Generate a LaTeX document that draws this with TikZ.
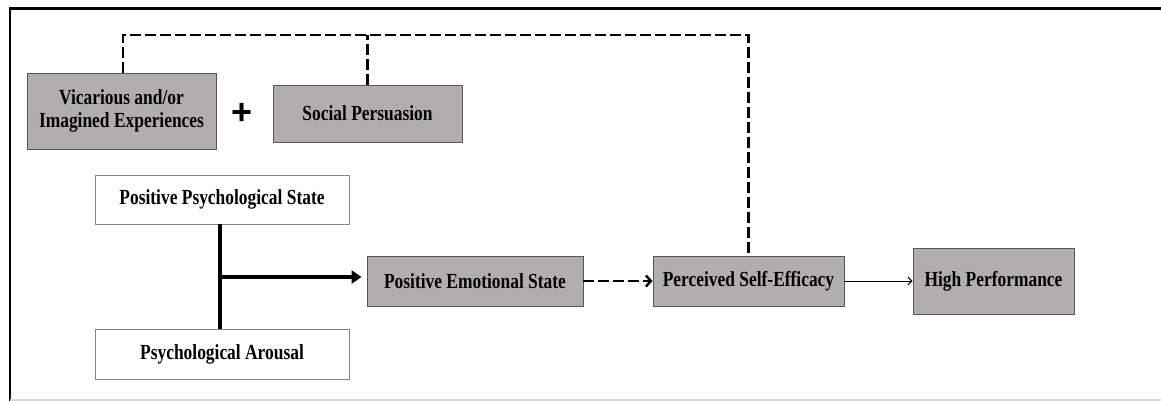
\documentclass[tikz,border=0pt]{standalone}
\usepackage{fontspec}
\setmainfont{Liberation Serif}[FakeStretch=0.81]
\newfontfamily\plusfont{Liberation Sans}
\usetikzlibrary{arrows.meta}
\definecolor{boxgray}{RGB}{179,174,174}
\definecolor{boxline}{RGB}{85,85,85}
\definecolor{wline}{RGB}{130,130,130}
\tikzset{
  x=1pt, y=-1pt,
  lbl/.style={font=\fontsize{21.5}{23.5}\selectfont\bfseries, align=center, inner sep=0pt},
  graybox/.style={lbl, draw=boxline, fill=boxgray, line width=0.9pt},
  whitebox/.style={lbl, draw=wline, fill=white, line width=0.9pt},
  dashline/.style={line width=2.6pt, dash pattern=on 11pt off 4pt},
}
\begin{document}
\begin{tikzpicture}
\useasboundingbox (0,0) rectangle (1161,401);
% frame
\draw[line width=2.5pt] (1161,8.5) -- (10,8.5) -- (10,401);
\draw[black!15, line width=1.5pt] (10,400) -- (1161,400);

% nodes
\node[graybox, minimum width=189pt, minimum height=76pt] (vic) at (121.5,111) {Vicarious and/or\\Imagined Experiences};
\node[graybox, minimum width=189pt, minimum height=57pt] (soc) at (367.5,113.5) {Social Persuasion};
\node[font=\plusfont\fontsize{36}{36}\selectfont\bfseries, inner sep=0pt] (plus) at (242,114) {+};
\node[whitebox, minimum width=254pt, minimum height=49pt] (pps) at (222,199.5) {Positive Psychological State};
\node[whitebox, minimum width=254pt, minimum height=50pt] (pa) at (222,354) {Psychological Arousal};
\node[graybox, minimum width=216pt, minimum height=50pt] (pes) at (475,281) {Positive Emotional State};
\node[graybox, minimum width=191pt, minimum height=50pt] (pse) at (748.5,281) {Perceived Self-Efficacy};
\node[graybox, minimum width=161pt, minimum height=66pt] (hp) at (993.5,281) {High Performance};

% junction
\coordinate (junc) at (220,277);
\draw[line width=3.2pt] (pps.south -| junc) -- (pa.north -| junc);
\draw[line width=3.2pt, -{Triangle[length=10pt,width=13pt]}, shorten >=5pt] (junc) -- (junc -| pes.west);

% dashed arrow PES -> PSE
\draw[dashline, -{Straight Barb[length=5pt,width=11pt,line width=2.4pt]}] (pes.east) -- (pse.west);

% thin arrow PSE -> HP
\draw[line width=1pt, -{Straight Barb[length=4pt,width=8pt]}] (pse.east) -- (hp.west);

% dashed feedback lines
\coordinate (topl) at (123,35);
\draw[dashline] ([xshift=1.5pt]vic.north) -- (topl) -| (pse.north);
\draw[dashline] (soc.north) -- (soc.north |- topl);
\end{tikzpicture}
\end{document}
